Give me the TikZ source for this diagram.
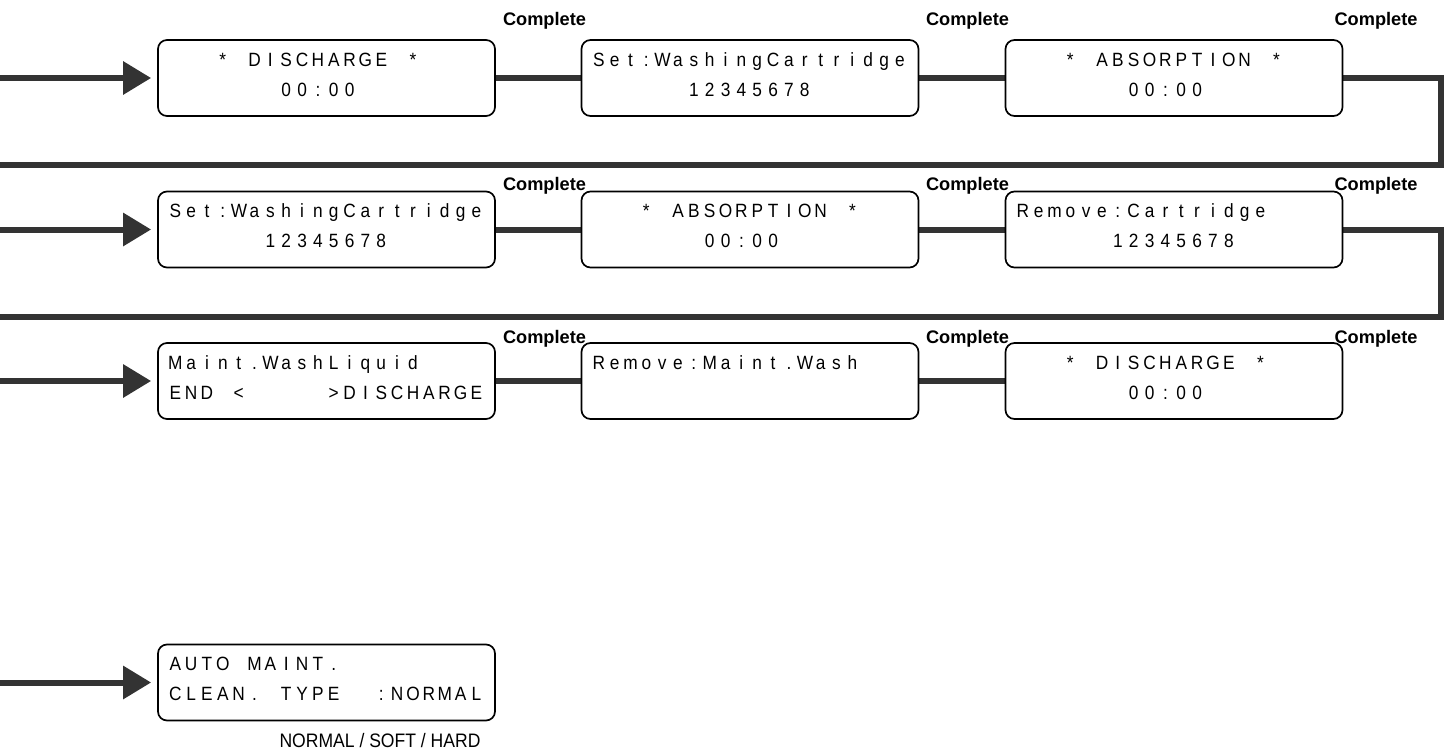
\documentclass[tikz,border=0pt]{standalone}
\usepackage{fontspec}
\setmainfont{Liberation Sans}
\newfontfamily\narrowfont[FakeStretch=0.9]{Liberation Sans}
\usetikzlibrary{arrows.meta}
\pgfdeclarelayer{background}
\pgfsetlayers{background,main}
\definecolor{flowgray}{RGB}{51,51,51}

\ExplSyntaxOn
\dim_new:N \l_lcd_cell_dim
\dim_set:Nn \l_lcd_cell_dim {15.85pt}
\NewDocumentCommand \lcd { m }
 {
  \str_map_inline:nn {#1}
   {
    \str_if_eq:nnTF {##1} {_}
     { \hbox_to_wd:nn {\l_lcd_cell_dim} {} }
     { \hbox_to_wd:nn {\l_lcd_cell_dim} { \hfil ##1 \hfil } }
   }
 }
\ExplSyntaxOff

\tikzset{
  lcdframe/.style={draw=black, line width=1.7pt, rounded corners=9pt, fill=white,
    minimum width=337pt, minimum height=76pt, inner sep=0pt},
  lcdtext/.style={inner sep=0pt, anchor=base west, font=\narrowfont\fontsize{19.2}{22}\selectfont, text=black},
  donelabel/.style={inner sep=0pt, anchor=base, font=\fontsize{18.2}{22}\selectfont\bfseries},
  flowline/.style={draw=flowgray, line width=6pt, line join=miter},
  flowarrow/.style={flowline, -{Triangle[length=28pt,width=32pt]}, shorten >=6pt},
}

\newcommand\lcdbox[5]{%
  \node[lcdframe] (#1) at (#2,#3) {};
  \node[lcdtext] (#1-a) at ([shift={(10pt,-27pt)}]#1.north west) {\lcd{#4}};
  \node[lcdtext] (#1-b) at ([shift={(10pt,-57pt)}]#1.north west) {\lcd{#5}};
}

\begin{document}
\begin{tikzpicture}[x=1pt,y=-1pt]
\useasboundingbox (0,0) rectangle (1447,749);

% row 1
\lcdbox{b11}{326.5}{78}{___*_DISCHARGE_*}{_______00:00}
\lcdbox{b12}{750}{78}{Set:WashingCartridge}{______12345678}
\lcdbox{b13}{1174}{78}{___*_ABSORPTION_*}{_______00:00}
% row 2
\lcdbox{b21}{326.5}{229.5}{Set:WashingCartridge}{______12345678}
\lcdbox{b22}{750}{229.5}{___*_ABSORPTION_*}{_______00:00}
\lcdbox{b23}{1174}{229.5}{Remove:Cartridge}{______12345678}
% row 3
\lcdbox{b31}{326.5}{381}{Maint.WashLiquid}{END_<_____>DISCHARGE}
\lcdbox{b32}{750}{381}{Remove:Maint.Wash}{}
\lcdbox{b33}{1174}{381}{___*_DISCHARGE_*}{_______00:00}
% bottom
\lcdbox{b41}{326.5}{682.5}{AUTO_MAINT.}{CLEAN._TYPE__:NORMAL}

% labels
\node[donelabel] (c11) at (544.5,26) {Complete};
\node[donelabel] (c12) at (967.5,26) {Complete};
\node[donelabel] (c13) at (1376,26) {Complete};
\node[donelabel] (c21) at (544.5,190) {Complete};
\node[donelabel] (c22) at (967.5,190) {Complete};
\node[donelabel] (c23) at (1376,190) {Complete};
\node[donelabel] (c31) at (544.5,343) {Complete};
\node[donelabel] (c32) at (967.5,343) {Complete};
\node[donelabel] (c33) at (1376,343) {Complete};
\node[inner sep=0pt, anchor=base, font=\narrowfont\fontsize{19.5}{22}\selectfont] (opts) at (380,747) {NORMAL / SOFT / HARD};

% coordinates
\coordinate (in1) at (0,78);
\coordinate (in2) at (0,229.5);
\coordinate (in3) at (0,381);
\coordinate (in4) at (0,682.5);
\coordinate (w1a) at (1441,165);
\coordinate (w1b) at (0,165);
\coordinate (w2a) at (1441,316.5);
\coordinate (w2b) at (0,316.5);

\begin{pgfonlayer}{background}
\draw[flowline] (b11.east) -- (b12.west);
\draw[flowline] (b12.east) -- (b13.west);
\draw[flowline] (b13.east) -| (w1a) -- (w1b);
\draw[flowline] (b21.east) -- (b22.west);
\draw[flowline] (b22.east) -- (b23.west);
\draw[flowline] (b23.east) -| (w2a) -- (w2b);
\draw[flowline] (b31.east) -- (b32.west);
\draw[flowline] (b32.east) -- (b33.west);
\end{pgfonlayer}

\draw[flowarrow] (in1) -- (b11.west);
\draw[flowarrow] (in2) -- (b21.west);
\draw[flowarrow] (in3) -- (b31.west);
\draw[flowarrow] (in4) -- (b41.west);
\end{tikzpicture}
\end{document}
